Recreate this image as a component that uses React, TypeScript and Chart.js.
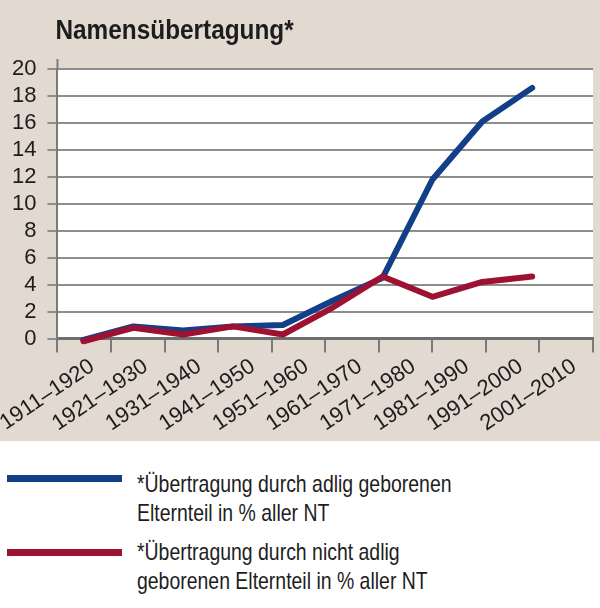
import React, { useEffect, useRef } from "react";
import { Chart, registerables } from "chart.js";

Chart.register(...registerables);

const chartTitle = "Namensübertagung*";
const categories = [
  "1911–1920",
  "1921–1930",
  "1931–1940",
  "1941–1950",
  "1951–1960",
  "1961–1970",
  "1971–1980",
  "1981–1990",
  "1991–2000",
  "2001–2010",
];
const yMin = 0;
const yMax = 20;
const yStep = 2;
const adligLabel = ["*Übertragung durch adlig geborenen", "Elternteil in % aller NT"];
const nichtAdligLabel = ["*Übertragung durch nicht adlig", "geborenen Elternteil in % aller NT"];
const adligValues = [-0.1, 0.9, 0.6, 0.9, 1.0, 2.8, 4.5, 11.8, 16.1, 18.6];
const nichtAdligValues = [-0.2, 0.8, 0.3, 0.9, 0.3, 2.3, 4.6, 3.1, 4.2, 4.6];

const BEIGE = "#e2d9d0";
const BLUE = "#123f88";
const RED = "#9d1232";
const FONT = "'Liberation Sans', Arial, sans-serif";
const TEXT = "#1d1d1d";

const decorPlugin = {
  id: "decor",
  beforeDraw(chart: any) {
    const { ctx, chartArea, width, height } = chart;
    ctx.save();
    ctx.fillStyle = BEIGE;
    ctx.fillRect(0, 0, width, height);
    ctx.fillStyle = "#ffffff";
    ctx.fillRect(chartArea.left, chartArea.top, chartArea.right - chartArea.left, chartArea.bottom - chartArea.top);
    ctx.restore();
  },
  afterDraw(chart: any) {
    const { ctx, chartArea } = chart;
    ctx.save();
    // y-axis line extends a little above the top gridline
    ctx.strokeStyle = "#7a7a7a";
    ctx.lineWidth = 2;
    ctx.beginPath();
    ctx.moveTo(chartArea.left, chartArea.top - 10);
    ctx.lineTo(chartArea.left, chartArea.top);
    ctx.stroke();
    // condensed bold title
    ctx.fillStyle = TEXT;
    ctx.font = `bold 28px ${FONT}`;
    ctx.textBaseline = "alphabetic";
    ctx.textAlign = "left";
    ctx.translate(chartArea.left - 2, 39);
    ctx.scale(0.87, 1);
    ctx.fillText(chartTitle, 0, 0);
    ctx.restore();
  },
};

function toPoints(values: number[]) {
  return values.map((v, i) => ({ x: i, y: v }));
}

export default function App() {
  const canvasRef = useRef<HTMLCanvasElement | null>(null);

  useEffect(() => {
    const canvas = canvasRef.current;
    if (!canvas) return;
    const chart = new Chart(canvas, {
      type: "line",
      data: {
        labels: categories,
        datasets: [
          {
            label: adligLabel.join(" "),
            data: toPoints(adligValues),
            xAxisID: "xl",
            borderColor: BLUE,
            backgroundColor: BLUE,
            borderWidth: 6,
            pointRadius: 0,
            borderCapStyle: "round",
            borderJoinStyle: "round",
            tension: 0,
            clip: false,
            order: 2,
          },
          {
            label: nichtAdligLabel.join(" "),
            data: toPoints(nichtAdligValues),
            xAxisID: "xl",
            borderColor: RED,
            backgroundColor: RED,
            borderWidth: 6,
            pointRadius: 0,
            borderCapStyle: "round",
            borderJoinStyle: "round",
            tension: 0,
            clip: false,
            order: 1,
          },
        ],
      },
      options: {
        responsive: false,
        animation: false,
        layout: { padding: { left: 1, top: 69, right: 7, bottom: 3 } },
        plugins: {
          legend: { display: false },
          title: { display: false },
          tooltip: { enabled: false },
        },
        scales: {
          x: {
            type: "category",
            offset: true,
            afterFit: (scale: any) => {
              // let the first rotated label run off the left edge, as in the original
              scale.paddingLeft = 0;
            },
            grid: {
              offset: true,
              drawOnChartArea: false,
              drawTicks: true,
              tickLength: 14,
              lineWidth: 2,
              color: "#7a7a7a",
              tickColor: (c: any) => (c.index === categories.length ? "rgba(0,0,0,0)" : "#7a7a7a"),
            },
            border: { display: true, color: "#6f6f6f", width: 3 },
            ticks: {
              autoSkip: false,
              minRotation: 34,
              maxRotation: 34,
              padding: 1,
              labelOffset: 8,
              color: TEXT,
              font: { family: FONT, size: 22 },
            },
          },
          xl: {
            type: "linear",
            display: false,
            min: -0.52,
            max: 10.22,
          },
          y: {
            min: yMin,
            max: yMax,
            ticks: {
              stepSize: yStep,
              autoSkip: false,
              padding: 11,
              color: TEXT,
              font: { family: FONT, size: 22 },
            },
            grid: {
              color: "#8d8d8d",
              lineWidth: 2,
              tickLength: 10,
            },
            border: { display: true, color: "#7a7a7a", width: 2 },
          },
        },
      },
      plugins: [decorPlugin],
    } as any);
    return () => chart.destroy();
  }, []);

  const legendItems = [
    { lines: adligLabel, color: BLUE, top: 28, swatchTop: 6 },
    { lines: nichtAdligLabel, color: RED, top: 96, swatchTop: 12 },
  ];

  return (
    <div style={{ position: "absolute", left: 0, top: 0, width: 600, height: 608, background: "#ffffff", overflow: "hidden" }}>
      <canvas ref={canvasRef} width={600} height={441} style={{ display: "block", width: 600, height: 441 }} />
      <div style={{ position: "absolute", left: 0, top: 441, width: 600, height: 167 }}>
        {legendItems.map((item, i) => (
          <div key={i} style={{ position: "absolute", left: 0, top: item.top, width: 600 }}>
            <div
              style={{
                position: "absolute",
                left: 7,
                top: item.swatchTop,
                width: 115,
                height: 7,
                background: item.color,
              }}
            />
            <div
              style={{
                position: "absolute",
                left: 137,
                top: 0,
                fontFamily: FONT,
                fontSize: 24,
                lineHeight: "29px",
                color: TEXT,
                whiteSpace: "nowrap",
                transform: "scaleX(0.81)",
                transformOrigin: "0 0",
              }}
            >
              {item.lines.map((l, j) => (
                <div key={j}>{l}</div>
              ))}
            </div>
          </div>
        ))}
      </div>
    </div>
  );
}
